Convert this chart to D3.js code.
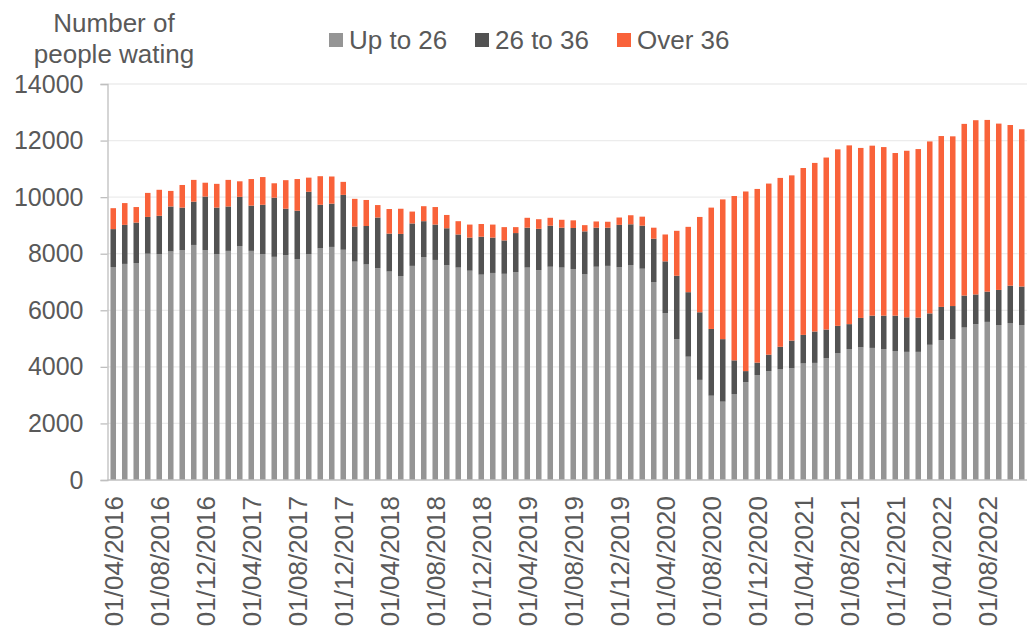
<!DOCTYPE html>
<html><head><meta charset="utf-8">
<script src="https://cdn.jsdelivr.net/npm/d3@7"></script>
<style>body{margin:0;background:#fff;} text{font-family:"Liberation Sans",Arial,sans-serif;fill:#595959;}</style>
</head><body>
<svg id="c" width="1027" height="631"></svg>
<script>
// Months from 01/04/2016 to 01/11/2022
const categories = (function(){const a=[];let yr=2016,m=4;for(let i=0;i<80;i++){a.push("01/"+String(m).padStart(2,"0")+"/"+yr);m++;if(m>12){m=1;yr++;}}return a;})();
const seriesNames = ["Up to 26","26 to 36","Over 36"];
const upTo26 = [7530,7640,7670,8000,7990,8080,8130,8310,8130,7990,8100,8270,8100,7990,7890,7950,7810,7990,8190,8240,
 8140,7720,7620,7490,7370,7210,7570,7880,7780,7590,7510,7400,7260,7320,7290,7350,7510,7420,7540,7510,
 7460,7270,7540,7570,7520,7600,7470,7000,5900,4980,4360,3540,2980,2770,3040,3460,3710,3850,3910,3950,
 4120,4140,4310,4490,4630,4690,4670,4630,4560,4530,4530,4780,4940,4980,5390,5510,5590,5480,5550,5480];
const from26to36 = [1340,1380,1430,1300,1350,1590,1500,1530,1890,1640,1570,1740,1600,1740,2090,1640,1710,2200,1540,1530,
 1940,1240,1360,1790,1340,1490,1500,1270,1250,1310,1170,1170,1340,1250,1180,1380,1410,1460,1450,1410,
 1450,1520,1380,1350,1500,1440,1520,1530,1830,2240,2280,2390,2360,2210,1190,390,440,580,800,980,
 1010,1110,1010,960,880,1040,1140,1180,1250,1220,1210,1110,1180,1170,1130,1050,1070,1240,1320,1360];
const over36 = [740,770,550,850,920,550,800,770,490,840,940,550,940,980,510,1010,1120,500,1010,960,
 460,980,920,440,870,890,420,530,620,470,470,460,450,460,470,210,350,340,280,280,
 270,220,220,210,260,320,320,390,950,1590,2310,3370,4290,4940,5810,6350,6140,6050,5970,5840,
 5900,5960,6080,6240,6320,6010,6010,5960,5750,5890,5960,6080,6040,6000,6070,6160,6070,5880,5680,5560];
const yTicks = [0,2000,4000,6000,8000,10000,12000,14000];
const colors = ["#959595","#525252","#F9623A"];

const svg = d3.select("#c");
const pLeft = 107.5, pRight = 1027.5, pTop = 84, pBottom = 480;
const x = d3.scaleBand().domain(categories).range([pLeft, pRight]).paddingInner(0.52).paddingOuter(0.26);
const y = d3.scaleLinear().domain([0,14000]).range([pBottom, pTop]);

// gridlines
svg.append("g").selectAll("line").data(yTicks.slice(1)).join("line")
  .attr("x1", pLeft).attr("x2", 1027).attr("y1", d=>y(d)).attr("y2", d=>y(d))
  .attr("stroke", "#ececec").attr("stroke-width", 1.3);

// stacked data
const table = categories.map((c,i)=>({cat:c, "Up to 26":upTo26[i], "26 to 36":from26to36[i], "Over 36":over36[i]}));
const stack = d3.stack().keys(seriesNames)(table);
svg.append("g").selectAll("g").data(stack).join("g").attr("fill", (d,i)=>colors[i])
  .selectAll("rect").data(d=>d).join("rect")
  .attr("x", d=>x(d.data.cat)).attr("width", x.bandwidth())
  .attr("y", d=>y(d[1])).attr("height", d=>y(d[0])-y(d[1]));

// y axis
const yAxis = d3.axisLeft(y).tickValues(yTicks).tickSize(7).tickPadding(17).tickFormat(d3.format("d"));
const ya = svg.append("g").attr("transform", `translate(${pLeft},0)`).call(yAxis);
ya.attr("font-family", null);
ya.select(".domain").attr("stroke", "#bfbfbf").attr("stroke-width", 1.3);
ya.selectAll(".tick line").attr("stroke", "#bfbfbf").attr("stroke-width", 1.3);
ya.selectAll(".tick text").style("font-size", "25px").style("fill", "#595959");

// x axis
const xAxis = d3.axisBottom(x).tickValues(categories.filter((d,i)=>i%4===0)).tickSize(0).tickSizeOuter(0);
const xa = svg.append("g").attr("transform", `translate(0,${pBottom})`).call(xAxis);
xa.attr("font-family", null);
xa.select(".domain").attr("stroke", "#bfbfbf").attr("stroke-width", 1.5).attr("d", `M${pLeft},0H1027`);
xa.selectAll(".tick text").style("font-size", "26px").style("fill", "#595959")
  .attr("text-anchor", "end").attr("transform", "rotate(-90)")
  .attr("x", -16).attr("y", 0).attr("dy", "0.36em");

// title
svg.append("text").attr("x", 114).attr("y", 32).attr("text-anchor", "middle").style("font-size", "26px").text("Number of");
svg.append("text").attr("x", 114).attr("y", 63).attr("text-anchor", "middle").style("font-size", "26px").text("people wating");

// legend
const legX = [329, 475, 617];
const lg = svg.append("g");
seriesNames.forEach((n,i)=>{
  lg.append("rect").attr("x", legX[i]).attr("y", 33).attr("width", 14).attr("height", 14).attr("fill", colors[i]);
  lg.append("text").attr("x", legX[i]+20).attr("y", 48.5).style("font-size", "26px").text(n);
});
</script>
</body></html>
